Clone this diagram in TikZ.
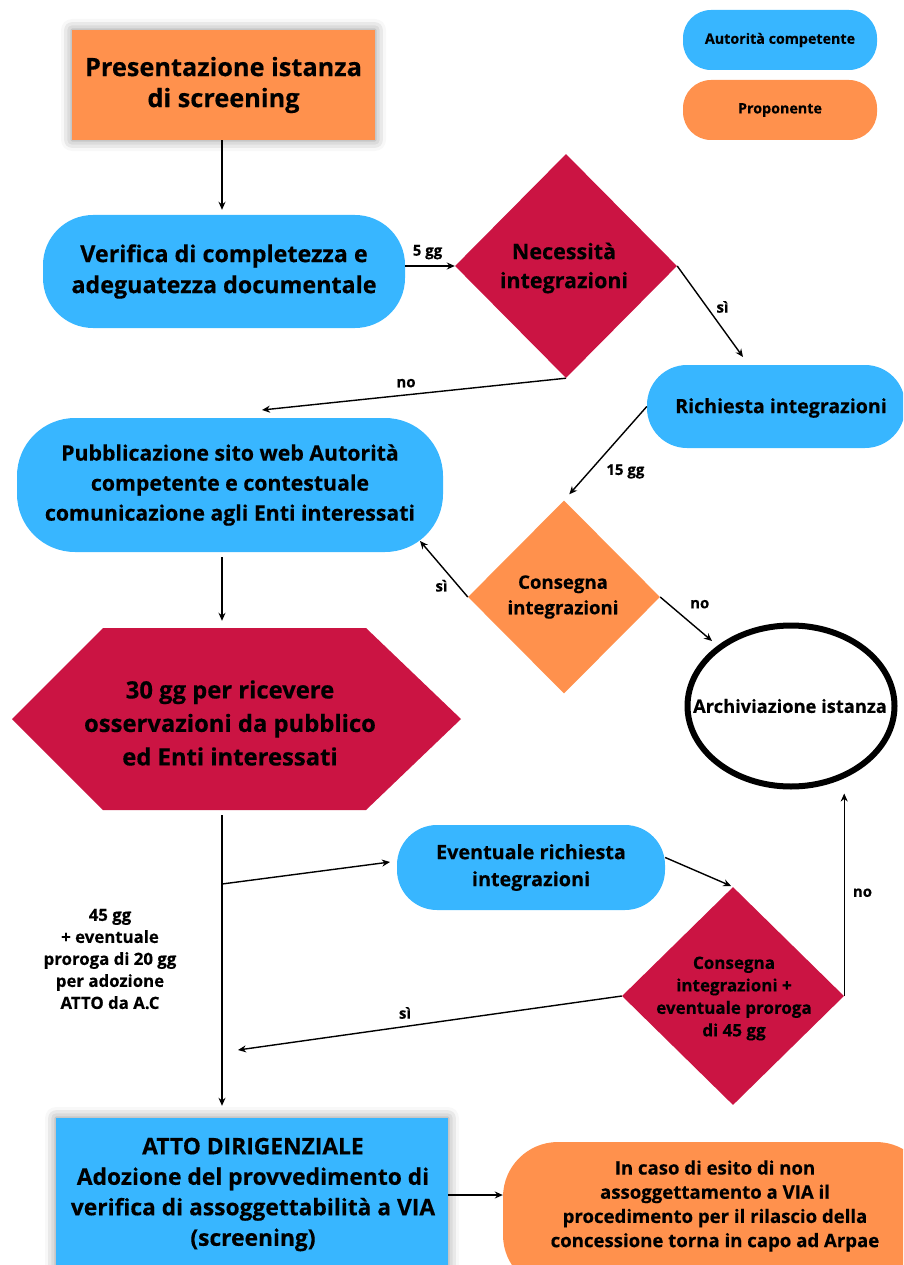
\documentclass[tikz,border=0pt]{standalone}
\usepackage{fontspec}
\setmainfont{Open Sans}[BoldFeatures={FakeBold=0.35}]
\usetikzlibrary{shapes.geometric,arrows.meta,shadows.blur}
\definecolor{cblue}{HTML}{38B6FF}
\definecolor{corange}{HTML}{FF914D}
\definecolor{ccrim}{HTML}{CB1443}
\newcommand\fsz[2]{\fontsize{#1}{#2}\selectfont\bfseries}
\begin{document}
\begin{tikzpicture}[x=1pt,y=-1pt,
  arr/.style={line width=1.4pt,-{Stealth[length=8pt,width=7pt]}},
  lbl/.style={font=\fsz{15}{18},inner sep=0pt},
  txt/.style={align=center,inner sep=0pt,text=black},
  softshadow/.style={blur shadow={shadow xshift=0pt,shadow yshift=0pt,shadow blur radius=11pt,shadow opacity=45}},
  box/.style={txt,inner sep=0pt}
]
\useasboundingbox (0,0) rectangle (903,1265);
\clip (0,0) rectangle (903,1265);
\coordinate (colx) at (222,0);

% legend
\node[box,fill=cblue,rounded corners=28pt,minimum width=194pt,minimum height=60pt,font=\fsz{14.3}{17}] (lga) at (780,40) {Autorità competente};
\node[box,fill=corange,rounded corners=28pt,minimum width=194pt,minimum height=60pt,font=\fsz{14.3}{17}] (lgp) at (780,110) {Proponente};

% nodes
\node[box,fill=corange,minimum width=303pt,minimum height=110pt,softshadow,font=\fsz{25.3}{31}] (pres) at (223.5,85) {Presentazione istanza\\di screening};
\node[box,fill=cblue,rounded corners=50pt,minimum width=362pt,minimum height=113pt,font=\fsz{23.3}{31}] (verif) at (224,271.5) {Verifica di completezza e\\adeguatezza documentale};
\node[diamond,fill=ccrim,minimum width=222pt,minimum height=224pt,inner sep=0pt] (nec) at (566,266) {};
\node[txt,font=\fsz{21.5}{29}] (nect) at (564,268) {Necessità\\integrazioni};
\node[box,fill=cblue,rounded corners=40pt,minimum width=258pt,minimum height=83pt] (ric) at (776,406.5) {};
\node[txt,font=\fsz{19.6}{22}] (rict) at (781,408) {Richiesta integrazioni};
\node[box,fill=cblue,rounded corners=58pt,minimum width=426pt,minimum height=134pt,font=\fsz{21.3}{30}] (pub) at (230,485) {Pubblicazione sito web Autorità\\competente e contestuale\\comunicazione agli Enti interessati};
\node[diamond,fill=corange,minimum width=192pt,minimum height=193pt,inner sep=0pt] (cons) at (564,597) {};
\node[txt,font=\fsz{18.6}{25.5}] (const) at (563,597) {Consegna\\integrazioni};
\node[ellipse,draw=black,line width=6pt,fill=white,minimum width=207pt,minimum height=161pt,inner sep=0pt] (arch) at (791,706) {};
\node[txt,font=\fsz{18.3}{20}] (archt) at (790,706) {Archiviazione istanza};

\fill[ccrim] (12,719) -- (103,628) -- (366,628) -- (461,719) -- (366,810) -- (103,810) -- cycle;
\node[minimum width=449pt,minimum height=182pt,inner sep=0pt] (hex) at (236.5,719) {};
\node[txt,font=\fsz{23.8}{33.5}] (hext) at (230,723) {30 gg per ricevere\\osservazioni da pubblico\\ed Enti interessati};

\node[box,fill=cblue,rounded corners=40pt,minimum width=268pt,minimum height=85pt,font=\fsz{19.8}{27}] (ev) at (531,867.5) {Eventuale richiesta\\integrazioni};
\node[diamond,fill=ccrim,minimum width=222pt,minimum height=218pt,inner sep=0pt] (d2) at (733,996) {};
\node[txt,font=\fsz{17}{22.5}] (d2t) at (734,998.5) {Consegna\\integrazioni +\\eventuale proroga\\di 45 gg};

\node[txt,font=\fsz{16.8}{22}] (t45) at (110,959) {45 gg\\+ eventuale\\proroga di 20 gg\\per adozione\\ATTO da A.C};

\node[fill=cblue,minimum width=392pt,minimum height=157pt,inner sep=0pt,softshadow] (atto) at (252,1196.5) {};
\node[txt,font=\fsz{22.8}{30.5}] (attot) at (253,1194.5) {ATTO DIRIGENZIALE\\Adozione del provvedimento di\\verifica di assoggettabilità a VIA\\(screening)};
\node[fill=corange,rounded corners=55pt,minimum width=428pt,minimum height=148pt,inner sep=0pt] (caso) at (717,1216) {};
\node[txt,font=\fsz{18.6}{24.2}] (casot) at (715,1206) {In caso di esito di non\\assoggettamento a VIA il\\procedimento per il rilascio della\\concessione torna in capo ad Arpae};

% free ends
\coordinate (c1) at (743,357);
\coordinate (c2) at (262,410);
\coordinate (c4) at (420,541);
\coordinate (c5) at (712,641);
\coordinate (br) at (222,884);
\coordinate (c6) at (390,862);
\coordinate (c7) at (238,1050);

% connectors
\draw[arr] (pres.south -| colx) -- ([yshift=5pt]verif.north -| colx);
\draw[arr] (verif.east |- nec.west) -- (nec.west) node[lbl,pos=0.45,above=6pt] {5 gg};
\draw[arr] (nec.east) -- (c1) node[lbl,pos=0.45,right=9pt] {sì};
\draw[arr] (nec.south) -- (c2) node[lbl,pos=0.5,above=6pt,xshift=-8pt] {no};
\draw[arr,shorten >=8pt] (ric.west) -- (cons.north) node[lbl,pos=0.5,xshift=20pt,yshift=-18pt] {15 gg};
\draw[arr] (cons.west) -- (c4) node[lbl,pos=0.2,left=10pt] {sì};
\draw[arr] (cons.east) -- (c5) node[lbl,pos=0.3,xshift=24pt,yshift=6pt] {no};
\draw[arr,shorten <=5pt] (pub.south -| colx) -- ([yshift=7pt]hex.north -| colx);
\draw[arr,shorten <=5pt,shorten >=12pt] (hex.south -| colx) -- (atto.north -| colx);
\draw[arr] (br) -- (c6);
\draw[arr,shorten >=2pt] ([yshift=10pt]ev.east) -- (d2.north);
\draw[arr,shorten >=4pt] (d2.east) -- (d2.east |- arch.south) node[lbl,midway,right=8pt] {no};
\draw[arr] (d2.west) -- (c7) node[lbl,pos=0.565,above=7pt] {sì};
\draw[arr] (atto.east |- 0,1195) -- (caso.west |- 0,1195);
\end{tikzpicture}
\end{document}
